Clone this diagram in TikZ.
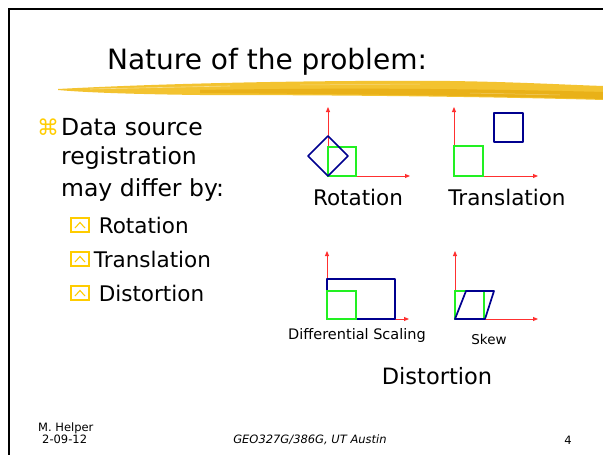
\documentclass[tikz,border=0pt]{standalone}
\usepackage{fontspec}
\setmainfont{DejaVu Sans}
\usetikzlibrary{positioning,arrows.meta,calc}
\definecolor{hilite}{HTML}{FFCC00}
\definecolor{brush}{HTML}{F3C330}
\definecolor{brushdk}{HTML}{E9B118}
\definecolor{axred}{HTML}{FF3030}
\definecolor{navy}{HTML}{00008F}
\definecolor{lime}{HTML}{22F022}
\tikzset{
  axis/.style={-{Triangle[length=5pt,width=4pt]},axred,line width=0.9pt},
  ref/.style={draw=lime,line width=1.1pt},
  moved/.style={draw=navy,line width=1.7pt,line join=round},
  body/.style={font=\fontsize{23.5}{27}\selectfont,anchor=west,inner sep=0pt},
  sub/.style={font=\fontsize{21.5}{25}\selectfont,anchor=west,inner sep=0pt},
  caption/.style={font=\fontsize{21.5}{25}\selectfont,inner sep=0pt},
  small/.style={font=\fontsize{14.5}{17}\selectfont,inner sep=0pt},
  foot/.style={font=\fontsize{11.5}{14}\selectfont,inner sep=0pt},
  tickbox/.style={draw=hilite,line width=1.2pt,minimum width=18pt,minimum height=14pt,inner sep=0pt},
}

\begin{document}
\begin{tikzpicture}[x=1pt,y=-1pt]
\useasboundingbox (0,0) rectangle (603,455);
% slide frame
\draw[line width=2.6pt] (9,456) -- (9,9) -- (604,9);

% title and brush stroke under it
\fill[brush] (58,89) .. controls (150,84) and (300,80) .. (450,81)
  .. controls (520,82) and (570,85) .. (604,86) -- (604,100)
  .. controls (500,97) and (350,95) .. (200,95)
  .. controls (120,94) and (80,92) .. (58,90) -- cycle;
\fill[brushdk] (200,90) .. controls (320,88) and (450,88) .. (604,92) -- (604,99)
  .. controls (450,95) and (320,94) .. (200,93) -- cycle;
\draw[white,opacity=0.45,line width=0.6pt] (90,89) -- (230,86);
\draw[white,opacity=0.35,line width=0.5pt] (300,85) -- (420,84);
\draw[white,opacity=0.35,line width=0.5pt] (470,93) -- (560,95);
\node[font=\fontsize{28}{33}\selectfont,inner sep=0pt] (title) at (267,62) {Nature of the problem:};

% bullet text on the left
\node[text=hilite,font=\fontsize{22}{26}\selectfont,inner sep=0pt] (star) at (48,127) {⌘};
\node[body] (l1) at (61,127) {Data source};
\node[body] (l2) at (61,158) {registration};
\node[body] (l3) at (61,190) {may differ by:};
\foreach \txt/\y/\n/\gap in {Rotation/225/1/9pt, Translation/259/2/4pt, Distortion/293/3/9pt}{
  \node[tickbox] (b\n) at (80,\y) {};
  \draw[hilite,line width=1.1pt] ($(b\n.center)+(-5,3)$) -- ($(b\n.center)+(0,-2.5)$) -- ($(b\n.center)+(5,3)$);
  \node[sub,right=\gap of b\n] (t\n) {\txt};
}

% rotation
\coordinate (rO) at (328,176);
\draw[axis] (rO) -- ++(0,-69);
\draw[axis] (rO) -- ++(82,0);
\draw[ref] (rO) rectangle ++(28,-29);
\draw[moved] (rO) -- ++(-20,-20) -- ++(20,-20) -- ++(20,20) -- cycle;
\node[caption] (rot) at (358,197) {Rotation};

% translation
\coordinate (tO) at (454,176);
\draw[axis] (tO) -- ++(0,-69);
\draw[axis] (tO) -- ++(84,0);
\draw[ref] (tO) rectangle ++(29,-30);
\draw[moved] (494,113) rectangle (523,142);
\node[caption] (tra) at (507,197) {Translation};

% differential scaling
\coordinate (sO) at (327,319);
\draw[axis] (sO) -- ++(0,-68);
\draw[axis] (sO) -- ++(82,0);
\draw[moved] (sO) rectangle ++(68,-40);
\draw[ref] (sO) rectangle ++(29,-28);
\node[small] (dif) at (357,335) {Differential Scaling};

% skew
\coordinate (kO) at (455,319);
\draw[axis] (kO) -- ++(0,-68);
\draw[axis] (kO) -- ++(83,0);
\draw[ref] (kO) rectangle ++(29,-28);
\draw[moved] (kO) -- ++(30,0) -- ++(9,-28) -- ++(-28,0) -- cycle;
\node[font=\fontsize{13.5}{16}\selectfont,inner sep=0pt] (skw) at (489,339) {Skew};

\node[font=\fontsize{22.5}{26}\selectfont,inner sep=0pt] (dis) at (437,376) {Distortion};

% footer
\node[foot,anchor=west] (auth) at (38,428) {M. Helper};
\node[foot,anchor=west] (date) at (42,439) {2-09-12};
\node[foot,font=\fontsize{11.5}{14}\selectfont\itshape] (course) at (310,440) {GEO327G/386G, UT Austin};
\node[foot] (page) at (568,440) {4};
\end{tikzpicture}
\end{document}
